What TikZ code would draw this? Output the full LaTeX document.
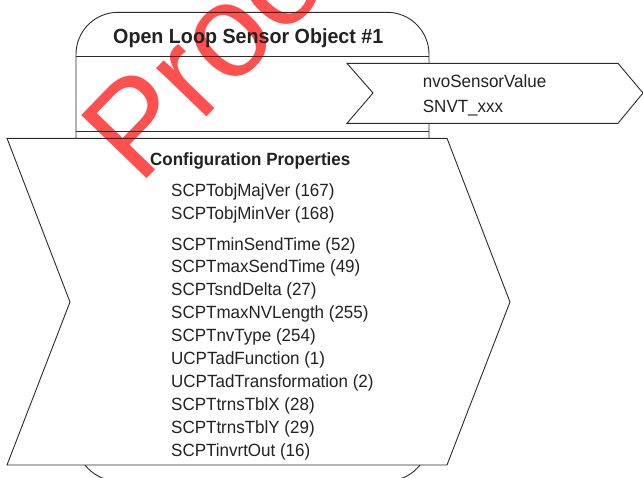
\documentclass[tikz,border=0pt]{standalone}
\usepackage{fontspec}
\setmainfont{Liberation Sans}[FakeStretch=0.96]
\newfontfamily\wmfont{Liberation Sans}
\definecolor{ln}{HTML}{2B2B2B}
\definecolor{tx}{HTML}{222222}
\definecolor{wm}{RGB}{255,80,80}
\tikzset{
  outline/.style={draw=ln, line width=0.9pt, line join=miter},
  item/.style={anchor=base west, inner sep=0pt, text=tx, font=\fontsize{17.7}{20}\selectfont},
  heading/.style={anchor=base west, inner sep=0pt, text=tx, font=\bfseries\fontsize{17.7}{20}\selectfont},
  objtitle/.style={anchor=base west, inner sep=0pt, text=tx, font=\bfseries\fontsize{20.5}{24}\selectfont},
}
\begin{document}
\begin{tikzpicture}[x=1pt,y=-1pt]
\useasboundingbox (0,0) rectangle (643,477);
\fill[white] (0,0) rectangle (643,477);
% watermark
\node[rotate=46, anchor=base west, inner sep=0pt, text=wm, font=\wmfont\fontsize{132}{132}\selectfont] (wmark) at (139,187) {Proof};
% object box (visible parts)
\begin{scope}
  \clip (0,0) rectangle (643,138.3);
  \draw[outline, rounded corners=42pt] (76,481) rectangle (429,12.3);
  \draw[outline] (76,56) -- (429,56);
  \draw[outline] (76,131.7) -- (429,131.7);
\end{scope}
\begin{scope}
  \clip (0,465) rectangle (643,500);
  \draw[outline, rounded corners=42pt] (76,481) rectangle (429,12.3);
\end{scope}
% output arrow
\draw[outline, fill=white] (347,63.3) -- (618,63.3) -- (643,93) -- (618,123.3) -- (347,123.3) -- (373,93) -- cycle;
% configuration chevron
\draw[outline] (7,138.3) -- (447,138.3) -- (510,302) -- (447,465) -- (7,465) -- (70,302) -- cycle;
% texts
\node[objtitle] (title) at (113,43.5) {Open Loop Sensor Object \#1};
\node[item] (nvo) at (422.7,87) {nvoSensorValue};
\node[item] (snvt) at (422.7,112) {SNVT\_xxx};
\node[heading] (cfg) at (150,165) {Configuration Properties};
\node[item] (p1) at (171,196) {SCPTobjMajVer (167)};
\node[item] (p2) at (171,219) {SCPTobjMinVer (168)};
\node[item] (p3) at (171,250) {SCPTminSendTime (52)};
\node[item] (p4) at (171,272.9) {SCPTmaxSendTime (49)};
\node[item] (p5) at (171,295.8) {SCPTsndDelta (27)};
\node[item] (p6) at (171,318.7) {SCPTmaxNVLength (255)};
\node[item] (p7) at (171,341.6) {SCPTnvType (254)};
\node[item] (p8) at (171,364.5) {UCPTadFunction (1)};
\node[item] (p9) at (171,387.4) {UCPTadTransformation (2)};
\node[item] (p10) at (171,410.3) {SCPTtrnsTblX (28)};
\node[item] (p11) at (171,433.2) {SCPTtrnsTblY (29)};
\node[item] (p12) at (171,456.1) {SCPTinvrtOut (16)};
\end{tikzpicture}
\end{document}
